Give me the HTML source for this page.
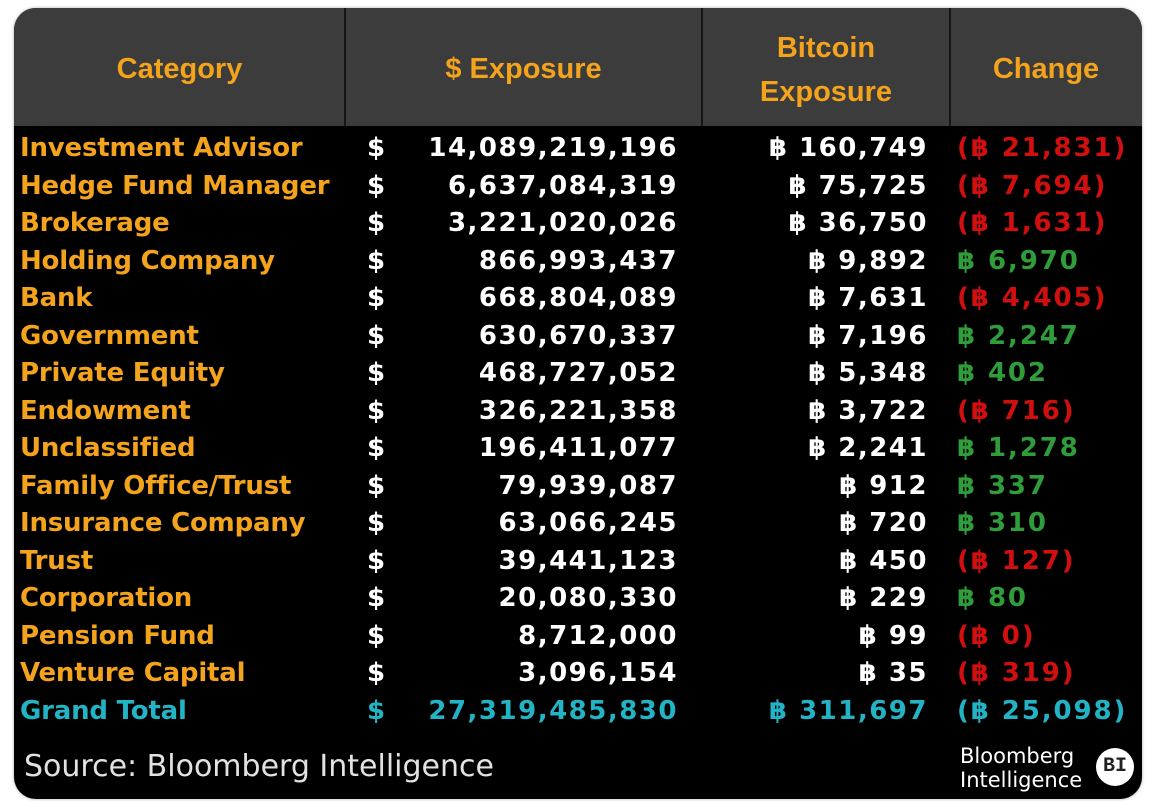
<!DOCTYPE html>
<html><head><meta charset="utf-8">
<style>
html,body{margin:0;padding:0;background:#fff;}
body{width:1160px;height:808px;position:relative;overflow:hidden;}
.panel{position:absolute;left:14px;top:8px;width:1128px;height:791px;background:#000;border-radius:22px;overflow:hidden;box-shadow:0 0 2px 1px rgba(0,0,0,0.18);}
.hdr{position:absolute;left:0;top:0;width:1128px;height:118px;background:#3c3c3c;}
.vs{position:absolute;top:0;height:118px;width:2px;background:#161616;}
.ht{position:absolute;color:#f4a31c;font-family:"Liberation Sans",sans-serif;font-weight:bold;font-size:29px;text-align:center;line-height:44px;}
.row{position:absolute;left:0;width:1128px;height:38px;line-height:38px;font-family:"DejaVu Sans","Liberation Sans",sans-serif;font-weight:bold;font-size:26px;white-space:nowrap;}
.row span{position:absolute;top:0;}
.nm{left:6px;color:#f4a31c;letter-spacing:-0.2px;}
.dl{left:353px;color:#fff;}
.amt{right:464px;color:#fff;letter-spacing:1.5px;}
.btc{right:214px;color:#fff;letter-spacing:1.5px;}
.chg{left:943px;letter-spacing:1.9px;}
.b{font-size:28px;}
.r{color:#d20f0f;}
.g{color:#2f9d3a;}
.tot span{color:#22b3c5 !important;}
.src{position:absolute;left:10px;top:738px;color:#e2e2e2;font-family:"DejaVu Sans",sans-serif;font-size:30px;line-height:42px;}
.logo{position:absolute;left:946px;top:736px;color:#fff;font-family:"DejaVu Sans",sans-serif;font-size:21px;line-height:24px;}
.bi{position:absolute;left:1082px;top:740px;width:38px;height:38px;border-radius:50%;background:#fff;color:#222;font-family:"Liberation Mono",monospace;font-weight:bold;font-size:20px;line-height:38px;text-align:center;}
</style></head><body>
<div class="panel">
  <div class="hdr"></div>
  <div class="vs" style="left:330px"></div>
  <div class="vs" style="left:687px"></div>
  <div class="vs" style="left:935px"></div>
  <div class="ht" style="left:0;width:331px;top:39px;">Category</div>
  <div class="ht" style="left:331px;width:357px;top:39px;">$ Exposure</div>
  <div class="ht" style="left:688px;width:248px;top:18px;">Bitcoin<br>Exposure</div>
  <div class="ht" style="left:936px;width:192px;top:39px;">Change</div>

  <div class="row" style="top:121px"><span class="nm">Investment Advisor</span><span class="dl">$</span><span class="amt">14,089,219,196</span><span class="btc">฿ 160,749</span><span class="chg r">(฿ 21,831)</span></div>
  <div class="row" style="top:158.5px"><span class="nm">Hedge Fund Manager</span><span class="dl">$</span><span class="amt">6,637,084,319</span><span class="btc">฿ 75,725</span><span class="chg r">(฿ 7,694)</span></div>
  <div class="row" style="top:196px"><span class="nm">Brokerage</span><span class="dl">$</span><span class="amt">3,221,020,026</span><span class="btc">฿ 36,750</span><span class="chg r">(฿ 1,631)</span></div>
  <div class="row" style="top:233.5px"><span class="nm">Holding Company</span><span class="dl">$</span><span class="amt">866,993,437</span><span class="btc">฿ 9,892</span><span class="chg g">฿ 6,970</span></div>
  <div class="row" style="top:271px"><span class="nm">Bank</span><span class="dl">$</span><span class="amt">668,804,089</span><span class="btc">฿ 7,631</span><span class="chg r">(฿ 4,405)</span></div>
  <div class="row" style="top:308.5px"><span class="nm">Government</span><span class="dl">$</span><span class="amt">630,670,337</span><span class="btc">฿ 7,196</span><span class="chg g">฿ 2,247</span></div>
  <div class="row" style="top:346px"><span class="nm">Private Equity</span><span class="dl">$</span><span class="amt">468,727,052</span><span class="btc">฿ 5,348</span><span class="chg g">฿ 402</span></div>
  <div class="row" style="top:383.5px"><span class="nm">Endowment</span><span class="dl">$</span><span class="amt">326,221,358</span><span class="btc">฿ 3,722</span><span class="chg r">(฿ 716)</span></div>
  <div class="row" style="top:421px"><span class="nm">Unclassified</span><span class="dl">$</span><span class="amt">196,411,077</span><span class="btc">฿ 2,241</span><span class="chg g">฿ 1,278</span></div>
  <div class="row" style="top:458.5px"><span class="nm">Family Office/Trust</span><span class="dl">$</span><span class="amt">79,939,087</span><span class="btc">฿ 912</span><span class="chg g">฿ 337</span></div>
  <div class="row" style="top:496px"><span class="nm">Insurance Company</span><span class="dl">$</span><span class="amt">63,066,245</span><span class="btc">฿ 720</span><span class="chg g">฿ 310</span></div>
  <div class="row" style="top:533.5px"><span class="nm">Trust</span><span class="dl">$</span><span class="amt">39,441,123</span><span class="btc">฿ 450</span><span class="chg r">(฿ 127)</span></div>
  <div class="row" style="top:571px"><span class="nm">Corporation</span><span class="dl">$</span><span class="amt">20,080,330</span><span class="btc">฿ 229</span><span class="chg g">฿ 80</span></div>
  <div class="row" style="top:608.5px"><span class="nm">Pension Fund</span><span class="dl">$</span><span class="amt">8,712,000</span><span class="btc">฿ 99</span><span class="chg r">(฿ 0)</span></div>
  <div class="row" style="top:646px"><span class="nm">Venture Capital</span><span class="dl">$</span><span class="amt">3,096,154</span><span class="btc">฿ 35</span><span class="chg r">(฿ 319)</span></div>
  <div class="row tot" style="top:683.5px"><span class="nm">Grand Total</span><span class="dl">$</span><span class="amt">27,319,485,830</span><span class="btc">฿ 311,697</span><span class="chg">(฿ 25,098)</span></div>

  <div class="src">Source: Bloomberg Intelligence</div>
  <div class="logo">Bloomberg<br>Intelligence</div>
  <div class="bi">BI</div>
</div>
</body></html>
